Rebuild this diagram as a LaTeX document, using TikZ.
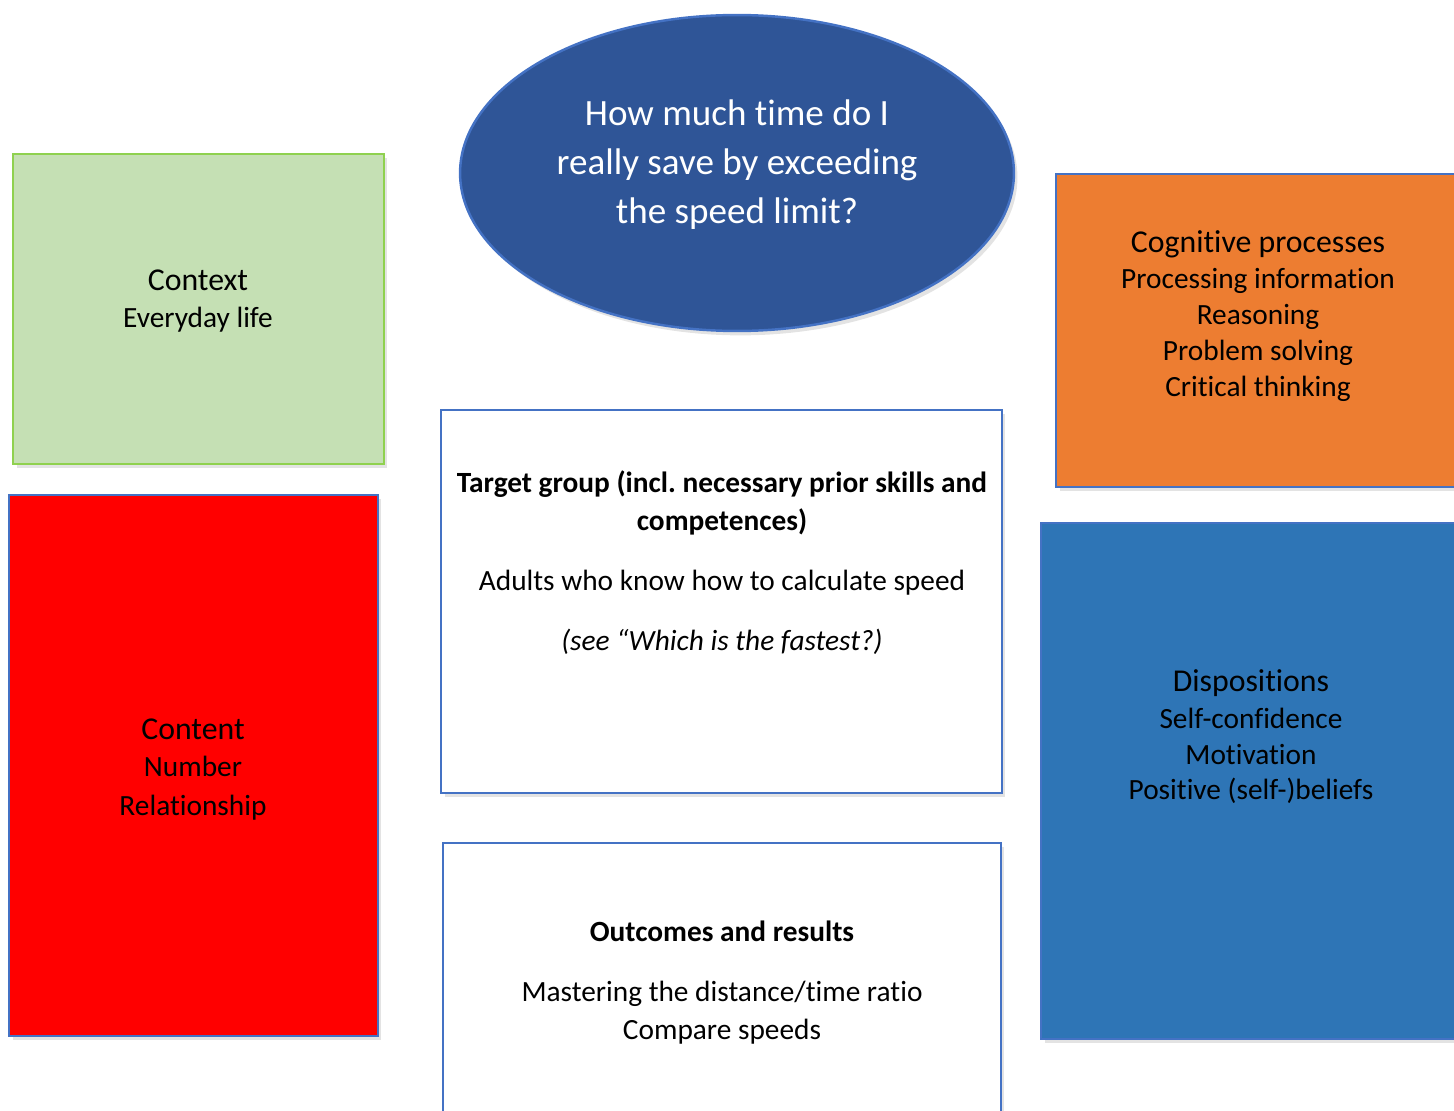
\documentclass[tikz,border=0pt]{standalone}
\usepackage{fontspec}
\setmainfont{Carlito}[Ligatures=NoCommon]
\usetikzlibrary{shapes.geometric,shadows}
\frenchspacing
\definecolor{edgeblue}{HTML}{4472C4}
\definecolor{edgegreen}{HTML}{8FD14F}
\definecolor{ctxgreen}{HTML}{C5E0B4}
\definecolor{cntred}{HTML}{FF0000}
\definecolor{qblue}{HTML}{2F5597}
\definecolor{cogorange}{HTML}{ED7D31}
\definecolor{dispblue}{HTML}{2E75B6}
\tikzset{
  card/.style={draw=edgeblue, line width=1.4pt, anchor=north west, inner sep=0pt, outer sep=0pt,
    drop shadow={opacity=0.22, shadow xshift=2pt, shadow yshift=-2.5pt}},
  head/.style={font=\fontsize{18.1pt}{22pt}\selectfont, anchor=base, inner sep=0pt},
  body/.style={font=\fontsize{16.7pt}{20pt}\selectfont, anchor=base, inner sep=0pt},
  ask/.style={font=\fontsize{21.1pt}{25pt}\selectfont, text=white, anchor=base, inner sep=0pt},
}
\begin{document}
\begin{tikzpicture}[x=0.02cm, y=-0.02cm]
\useasboundingbox (0,0) rectangle (1454,1111);
\clip (0,0) rectangle (1454,1111);
\node[card, draw=edgegreen, fill=ctxgreen, minimum width=7.42cm, minimum height=6.2cm] (context) at (13,154) {};
\node[card, fill=cntred, minimum width=7.38cm, minimum height=10.82cm] (content) at (9,495) {};
\node[card, fill=white, minimum width=11.22cm, minimum height=7.66cm] (target) at (441,410) {};
\node[card, fill=white, minimum width=11.16cm, minimum height=5.8cm] (outcomes) at (443,843) {};
\node[card, fill=cogorange, minimum width=8.3cm, minimum height=6.26cm] (cognitive) at (1056,174) {};
\node[card, fill=dispblue, minimum width=8.6cm, minimum height=10.32cm] (dispositions) at (1041,523) {};
\node[ellipse, draw=edgeblue, line width=1.4pt, fill=qblue, minimum width=11.08cm, minimum height=6.32cm,
  drop shadow={opacity=0.22, shadow xshift=2pt, shadow yshift=-2.5pt}] (question) at (737,173) {};

\node[ask] (ask1) at (737,126) {How much time do I};
\node[ask] (ask2) at (737,175) {really save by exceeding};
\node[ask] (ask3) at (737,224) {the speed limit?};

\node[head] (ctxhead) at (198,291) {Context};
\node[body] (ctxline) at (198,328) {Everyday life};

\node[head] (cnthead) at (193,739) {Content};
\node[body] (cntline1) at (193,776) {Number};
\node[body] (cntline2) at (193,815) {Relationship};

\node[body] (tgthead1) at (722,492) {\bfseries Target group (incl. necessary prior skills and};
\node[body] (tgthead2) at (722,530) {\bfseries competences)};
\node[body] (tgtline) at (722,590) {Adults who know how to calculate speed};
\node[body] (tgtnote) at (722,650) {\itshape (see “Which is the fastest?)};

\node[body] (outhead) at (722,941) {\bfseries Outcomes and results};
\node[body] (outline1) at (722,1001) {Mastering the distance/time ratio};
\node[body] (outline2) at (722,1039) {Compare speeds};

\node[head] (coghead) at (1258,253) {Cognitive processes};
\node[body] (cogline1) at (1258,289) {Processing information};
\node[body] (cogline2) at (1258,325) {Reasoning};
\node[body] (cogline3) at (1258,361) {Problem solving};
\node[body] (cogline4) at (1258,397) {Critical thinking};

\node[head] (disphead) at (1251,691) {Dispositions};
\node[body] (displine1) at (1251,728) {Self-confidence};
\node[body] (displine2) at (1251,764) {Motivation};
\node[body] (displine3) at (1251,799) {Positive (self-)beliefs};
\end{tikzpicture}
\end{document}
